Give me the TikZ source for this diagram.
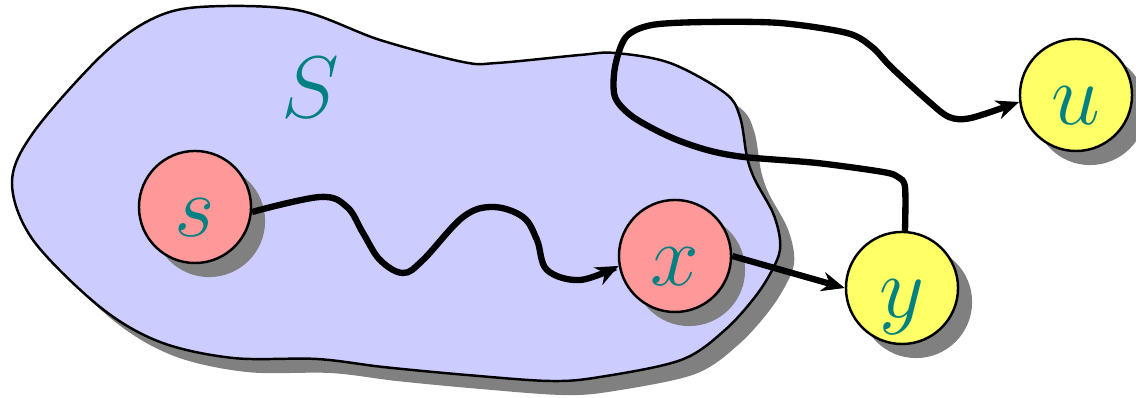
\documentclass[tikz,border=0pt]{standalone}
\usepackage{fontspec}
\usetikzlibrary{arrows.meta,shadows}
\begin{document}
\begin{tikzpicture}[x=0.01cm,y=0.01cm,font=\fontsize{25}{30}\selectfont,
  castshadow/.style={drop shadow={shadow xshift=4pt,shadow yshift=-4pt,fill=cutshadow,opacity=1}},
  vertex/.style={circle,draw,line width=0.7pt,minimum size=1.12cm,inner sep=0pt,
    text=cutlabel,text height=16.8pt,text depth=0pt,castshadow},
  route/.style={line width=1.8pt,-{Stealth[length=6.5pt,width=5.5pt]}}]
  \definecolor{cutset}{HTML}{CCCCFF}
  \definecolor{cutred}{HTML}{FF9999}
  \definecolor{cutyellow}{HTML}{FFFF66}
  \definecolor{cutlabel}{HTML}{008080}
  \definecolor{cutshadow}{HTML}{808080}

  \useasboundingbox (0,0) rectangle (1136,398);

  % the set S
  \draw[fill=cutset,line width=0.7pt,castshadow] plot[smooth cycle,tension=0.55] coordinates {
    (12,215) (33,265) (100,341) (150,378) (200,391) (297,388) (380,358) (463,336)
    (497,335) (580,343) (615,345) (670,335) (725,305) (740,281) (747,241) (755,218)
    (773,185) (780,158) (777,138) (758,105) (725,68) (681,38) (600,21) (550,17)
    (467,23) (383,31) (317,39) (233,40) (160,56) (100,91) (33,158)};
  \node[text=cutlabel] (setlabel) at (310,310) {$S$};

  % vertices
  \node[vertex,fill=cutred] (s) at (195,191) {$s$};
  \node[vertex,fill=cutred] (x) at (675,142) {$x$};
  \node[vertex,fill=cutyellow] (y) at (902,110) {$y$};
  \node[vertex,fill=cutyellow] (u) at (1076,303) {$u$};

  % paths
  \draw[route] plot[smooth,tension=0.6] coordinates {(s.-5) (320,201) (347,191)
    (363,165) (380,138) (403,125) (423,138) (463,181) (493,191) (523,181) (537,158)
    (547,128) (580,118) (x.190)};
  \draw[route] (x.east) -- (y.west);
  \draw[route] plot[smooth,tension=0.5] coordinates {(y.87) (905,211) (898,221)
    (883,226) (817,235) (744,241) (707,248) (670,261) (633,281) (615,301) (615,331)
    (626,361) (652,373) (707,376) (780,375) (847,365) (872,351) (891,331) (927,298)
    (949,281) (971,280) (u.187)};
\end{tikzpicture}
\end{document}
